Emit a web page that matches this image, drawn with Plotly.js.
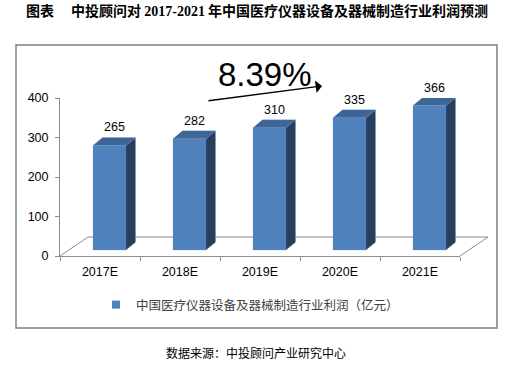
<!DOCTYPE html>
<html>
<head>
<meta charset="utf-8">
<script src="https://cdn.plot.ly/plotly-3.0.1.min.js"></script>
<style>html,body{margin:0;padding:0;background:#fff;}</style>
</head>
<body>
<div id="chart" style="width:510px;height:366px;"></div>
<script>
// ---- data ----
const categories = ['2017E', '2018E', '2019E', '2020E', '2021E'];
const profits = [265, 282, 310, 335, 366];
const seriesName = '中国医疗仪器设备及器械制造行业利润（亿元）';
const growthLabel = '8.39%';
const yTicks = [0, 100, 200, 300, 400];

// ---- styling / geometry (in axis units) ----
const FRONT = '#4F81BD', SIDE = '#283E5E', TOP = '#3D6597';
const barOff = -0.0875, barW = 0.4125, base = 15, dX = 0.119, dY = 20;
const floorDX = 0.35, floorDY = 48;
const n = categories.length;

const traces = [];
// floor (back wall base)
traces.push({
  x: [-0.5, -0.5 + floorDX, n - 0.5 + floorDX, n - 0.5],
  y: [0, floorDY, floorDY, 0],
  xaxis: 'x2', yaxis: 'y', mode: 'lines', type: 'scatter',
  line: {color: '#8c8c8c', width: 1}, hoverinfo: 'skip', showlegend: false
});
profits.forEach((v, i) => {
  const x0 = i + barOff, x1 = x0 + barW, T = v + base;
  const faces = [
    {x: [x0, x1, x1, x0, x0], y: [base, base, T, T, base], c: FRONT},
    {x: [x1, x1 + dX, x1 + dX, x1, x1], y: [base, base + dY, T + dY, T, base], c: SIDE},
    {x: [x0, x1, x1 + dX, x0 + dX, x0], y: [T, T, T + dY, T + dY, T], c: TOP}
  ];
  faces.forEach(f => traces.push({
    x: f.x, y: f.y, xaxis: 'x2', yaxis: 'y', type: 'scatter', mode: 'lines',
    fill: 'toself', fillcolor: f.c, line: {color: 'rgba(120,150,200,0.35)', width: 0.6},
    hoverinfo: 'skip', showlegend: false
  }));
});
// category carrier + legend proxy
traces.push({
  x: categories, y: profits.map(() => null), xaxis: 'x', yaxis: 'y',
  type: 'scatter', mode: 'markers', name: seriesName,
  marker: {symbol: 'square', size: 8, color: FRONT}, showlegend: true, hoverinfo: 'skip'
});

const W = 430, H = 158, L = 60, TOPPX = 98;
const px = x => (x - L) / W;
const py = y => (TOPPX + H - y) / H;

const annotations = profits.map((v, i) => ({
  x: i + barOff + (barW + dX) / 2, y: v + base, xref: 'x2', yref: 'y',
  text: String(v), showarrow: false, yanchor: 'bottom', yshift: 9,
  font: {family: 'Liberation Sans, Arial', size: 12.5, color: '#000'}
}));
annotations.push({
  x: px(265), y: py(75), xref: 'paper', yref: 'paper', text: growthLabel,
  showarrow: false, xanchor: 'center', yanchor: 'middle',
  font: {family: 'Liberation Sans, Arial', size: 33, color: '#000'}
});
annotations.push({
  x: px(322), y: py(86), xref: 'paper', yref: 'paper', text: '',
  showarrow: true, ax: -115, ay: 15, arrowhead: 1, arrowsize: 1.5,
  arrowwidth: 1.4, arrowcolor: '#000', standoff: 0, startstandoff: 0
});
annotations.push({
  x: px(256), y: py(352), xref: 'paper', yref: 'paper',
  text: '数据来源：中投顾问产业研究中心', showarrow: false,
  xanchor: 'center', yanchor: 'middle',
  font: {family: 'Noto Sans CJK SC', size: 12, color: '#000'}
});

const layout = {
  width: 510, height: 366,
  margin: {l: L, r: 510 - L - W, t: TOPPX, b: 366 - TOPPX - H, pad: 0},
  paper_bgcolor: '#fff', plot_bgcolor: 'rgba(0,0,0,0)',
  title: {
    text: '图表　 中投顾问对 <span style="font-family:Liberation Serif">2017-2021</span> 年中国医疗仪器设备及器械制造行业利润预测',
    x: 257 / 510, xanchor: 'center', y: 1 - 11 / 366, yanchor: 'middle', yref: 'container',
    font: {family: 'Noto Sans CJK SC', size: 14, color: '#000', weight: 700}
  },
  xaxis: {
    type: 'category', categoryorder: 'array', categoryarray: categories,
    domain: [0, 400 / W], range: [-0.5, n - 0.5], anchor: 'y',
    showline: true, linecolor: '#8c8c8c', linewidth: 1,
    ticks: 'outside', ticklen: 4, tickcolor: '#8c8c8c', tickson: 'boundaries',
    ticklabelstandoff: 4,
    showgrid: false, zeroline: false, fixedrange: true,
    tickfont: {family: 'Liberation Sans, Arial', size: 12.5, color: '#000'}
  },
  xaxis2: {
    domain: [0, 1], range: [-0.5, -0.5 + W / 80], anchor: 'y', visible: false,
    showgrid: false, zeroline: false, fixedrange: true
  },
  yaxis: {
    range: [0, 400], tickvals: yTicks, anchor: 'x',
    showline: true, linecolor: '#8c8c8c', linewidth: 1,
    ticks: 'outside', ticklen: 4, tickcolor: '#8c8c8c', ticklabelstandoff: 4,
    showgrid: false, zeroline: false, fixedrange: true,
    tickfont: {family: 'Liberation Sans, Arial', size: 12.5, color: '#000'}
  },
  showlegend: true,
  legend: {
    x: px(96), y: py(305), xanchor: 'left', yanchor: 'middle', orientation: 'h',
    itemwidth: 30, bgcolor: 'rgba(0,0,0,0)',
    font: {family: 'Noto Sans CJK SC', size: 12.5, color: '#404040'}
  },
  shapes: [{
    type: 'rect', xref: 'paper', yref: 'paper', layer: 'below',
    x0: px(16), x1: px(497), y0: py(328), y1: py(45),
    line: {color: '#808080', width: 1.5}, fillcolor: 'rgba(0,0,0,0)'
  }],
  annotations: annotations
};

Plotly.newPlot('chart', traces, layout, {displayModeBar: false, staticPlot: true});
</script>
</body>
</html>
